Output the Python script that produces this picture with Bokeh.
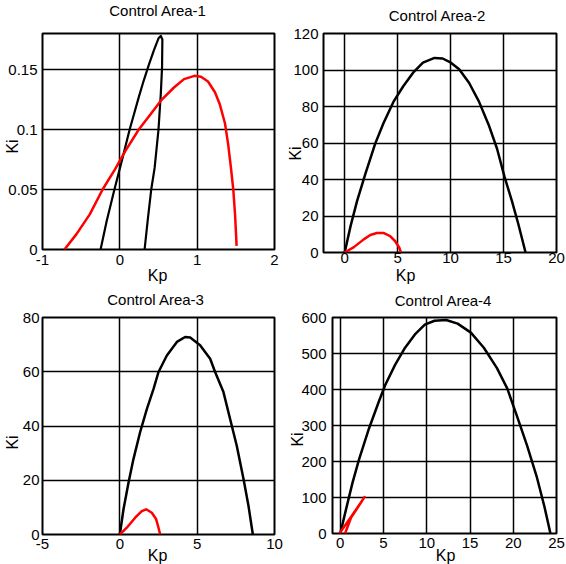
from math import pi
from bokeh.plotting import figure
from bokeh.models import Range1d, FixedTicker
from bokeh.layouts import row, column
from bokeh.core.properties import value
from bokeh.embed import file_html
from bokeh.resources import INLINE

FONT = "Liberation Sans"

# ---------------- data ----------------
titles = ["Control Area-1", "Control Area-2", "Control Area-3", "Control Area-4"]
x_label = "Kp"
y_label = "Ki"

# Control Area-1
a1_black_kp = [-0.249, -0.17, -0.07, 0.026, 0.127, 0.245, 0.31, 0.376, 0.44, 0.50, 0.53,
               0.55, 0.546, 0.53, 0.50, 0.45, 0.406, 0.36, 0.32]
a1_black_ki = [0, 0.0237, 0.05, 0.074, 0.1, 0.127, 0.141, 0.154, 0.166, 0.176, 0.178,
               0.175, 0.152, 0.13, 0.1, 0.068, 0.05, 0.024, 0]
a1_red_kp = [-0.716, -0.563, -0.389, -0.223, -0.061, 0.07, 0.245, 0.40, 0.53, 0.70, 0.83,
             0.965, 1.05, 1.14, 1.23, 1.29, 1.36, 1.40, 1.437, 1.467, 1.49, 1.51]
a1_red_ki = [0, 0.0126, 0.0293, 0.05, 0.067, 0.082, 0.1, 0.113, 0.124, 0.135, 0.142,
             0.1447, 0.144, 0.14, 0.131, 0.1215, 0.105, 0.088, 0.068, 0.05, 0.029, 0.003]
a1_xticks = [-1, 0, 1, 2]
a1_xlabels = ["-1", "0", "1", "2"]
a1_yticks = [0, 0.05, 0.1, 0.15]
a1_ylabels = ["0", "0.05", "0.1", "0.15"]

# Control Area-2
a2_black_kp = [0, 0.56, 1.18, 1.96, 2.89, 3.66, 4.6, 5.53, 6.46, 7.39, 8.48, 9.25, 10.03,
               10.81, 11.74, 12.67, 13.6, 14.38, 15.1, 15.78, 16.4, 17.08]
a2_black_ki = [0, 14.6, 28.4, 43.2, 59.8, 70.8, 82.5, 91.1, 98.5, 104, 106.6, 106.3, 104,
               100.4, 93, 82.8, 69.9, 57, 41.3, 28.4, 15.5, 0]
a2_red_kp = [0, 0.87, 1.8, 2.42, 3.04, 3.66, 4.29, 4.75, 5.16, 5.31]
a2_red_ki = [0, 2.95, 7.2, 9.6, 10.7, 10.7, 9.0, 6.3, 2.6, 0]
a2_xticks = [0, 5, 10, 15, 20]
a2_xlabels = ["0", "5", "10", "15", "20"]
a2_yticks = [0, 20, 40, 60, 80, 100, 120]
a2_ylabels = ["0", "20", "40", "60", "80", "100", "120"]

# Control Area-3
a3_black_kp = [0, 0.237, 0.56, 0.88, 1.31, 1.75, 2.18, 2.5, 3.04, 3.69, 4.22, 4.55, 5.19,
               5.84, 6.16, 6.7, 7.13, 7.56, 8.0, 8.32, 8.6]
a3_black_ki = [0, 9.3, 19.1, 27.8, 37.7, 46.3, 53.7, 59.9, 66, 71, 72.8, 72.6, 69.8,
               64.8, 59.9, 52.5, 42.6, 32.7, 20.4, 10.5, 0]
a3_red_kp = [0, 0.45, 0.99, 1.42, 1.70, 2.07, 2.35, 2.5, 2.61]
a3_red_ki = [0, 2.5, 6.2, 8.6, 9.3, 8.0, 5.6, 2.5, 0]
a3_xticks = [-5, 0, 5, 10]
a3_xlabels = ["-5", "0", "5", "10"]
a3_yticks = [0, 20, 40, 60, 80]
a3_ylabels = ["0", "20", "40", "60", "80"]

# Control Area-4
a4_black_kp = [0, 0.65, 1.41, 2.17, 3.31, 4.45, 5.21, 6.35, 7.49, 8.63, 9.77, 10.9, 12.24,
               13.57, 15.1, 16.6, 18.1, 19.3, 20.4, 21.6, 22.7, 23.6, 24.3]
a4_black_ki = [0, 65.7, 140.7, 206, 291, 366, 413, 469, 516, 553, 580, 591, 593,
               583, 558, 516, 460, 403, 328, 244, 159, 75, 0]
a4_red_kp = [-0.1, 1.3, 2.8, 1.25, 0.55]
a4_red_ki = [0, 48, 101, 44, 0]
a4_xticks = [0, 5, 10, 15, 20, 25]
a4_xlabels = ["0", "5", "10", "15", "20", "25"]
a4_yticks = [0, 100, 200, 300, 400, 500, 600]
a4_ylabels = ["0", "100", "200", "300", "400", "500", "600"]

# ---------------- layout (pixels) ----------------
TOTAL_W, TOTAL_H = 566, 564


def panel(xr, yr, xticks, xlabels, yticks, ylabels, black, red,
          fw, fh, bl, br, bt, bb, xstand, ystand, black_w=2.5):
    p = figure(frame_width=fw, frame_height=fh, x_range=Range1d(*xr), y_range=Range1d(*yr),
               output_backend="svg", toolbar_location=None,
               min_border_left=bl, min_border_right=br, min_border_top=bt, min_border_bottom=bb)
    p.background_fill_color = "white"
    p.border_fill_color = "white"
    p.outline_line_color = "black"
    p.outline_line_width = 2
    p.xaxis.ticker = FixedTicker(ticks=xticks)
    p.yaxis.ticker = FixedTicker(ticks=yticks)
    p.xaxis.major_label_overrides = dict(zip(xticks, xlabels))
    p.yaxis.major_label_overrides = dict(zip(yticks, ylabels))
    for ax in (p.xaxis[0], p.yaxis[0]):
        ax.axis_line_color = None
        ax.major_tick_in = 0
        ax.major_tick_out = 0
        ax.minor_tick_in = 0
        ax.minor_tick_out = 0
        ax.major_label_text_font = FONT
        ax.major_label_text_font_size = "15px"
        ax.major_label_text_color = "black"
    p.xaxis.major_label_standoff = xstand
    p.yaxis.major_label_standoff = ystand
    for g in (p.xgrid[0], p.ygrid[0]):
        g.grid_line_color = "black"
        g.grid_line_width = 1.5
        g.grid_line_alpha = 1.0
    p.line(black[0], black[1], line_color="black", line_width=black_w, line_join="round")
    p.line(red[0], red[1], line_color="#ff0000", line_width=2.5, line_join="round")
    return p


p1 = panel((-1, 2), (0, 0.18), a1_xticks, a1_xlabels, a1_yticks, a1_ylabels,
           (a1_black_kp, a1_black_ki), (a1_red_kp, a1_red_ki),
           232, 216, 42, 16, 28, 38, 5, 5, black_w=2.2)
p2 = panel((-2, 20), (0, 120), a2_xticks, a2_xlabels, a2_yticks, a2_ylabels,
           (a2_black_kp, a2_black_ki), (a2_red_kp, a2_red_ki),
           233, 219, 31, 12, 33, 30, 0, 5)
p3 = panel((-5, 10), (0, 80), a3_xticks, a3_xlabels, a3_yticks, a3_ylabels,
           (a3_black_kp, a3_black_ki), (a3_red_kp, a3_red_ki),
           232, 217, 42, 16, 34, 31, 4, 3)
p4 = panel((-0.9, 25), (0, 600), a4_xticks, a4_xlabels, a4_yticks, a4_ylabels,
           (a4_black_kp, a4_black_ki), (a4_red_kp, a4_red_ki),
           224, 216, 42, 10, 35, 31, 4, 6)

# Text overlay (titles and axis labels), laid over the four panels.
# Positions in layout pixels (origin = top-left of the layout).
title_pos = [(157.5, 10), (437, 15), (155.5, 299), (443, 300)]
kp_pos = [(157, 275), (405, 275), (157, 555), (445, 555)]
ki_pos = [(12, 146), (295, 153), (12, 442), (296.5, 439)]

ov = figure(width=TOTAL_W, height=TOTAL_H, x_range=Range1d(0, TOTAL_W),
            y_range=Range1d(TOTAL_H, 0), x_axis_location=None, y_axis_location=None,
            output_backend="svg", toolbar_location=None, min_border=0,
            margin=(-TOTAL_H, 0, 0, 0))
ov.outline_line_color = None
ov.background_fill_color = None
ov.border_fill_color = None
ov.grid.visible = False

ov.text(x=[t[0] for t in title_pos], y=[t[1] for t in title_pos], text=titles,
        text_font=value(FONT), text_font_size="15px", text_align="center",
        text_baseline="middle", text_color="black")
ov.text(x=[t[0] for t in kp_pos], y=[t[1] for t in kp_pos], text=[x_label] * 4,
        text_font=value(FONT), text_font_size="16px", text_align="center",
        text_baseline="middle", text_color="black")
ov.text(x=[t[0] for t in ki_pos], y=[t[1] for t in ki_pos], text=[y_label] * 4,
        angle=pi / 2, text_font=value(FONT), text_font_size="16px", text_align="center",
        text_baseline="middle", text_color="black")

layout = column(row(p1, p2), row(p3, p4), ov)
open("out.html", "w").write(file_html(layout, INLINE))
